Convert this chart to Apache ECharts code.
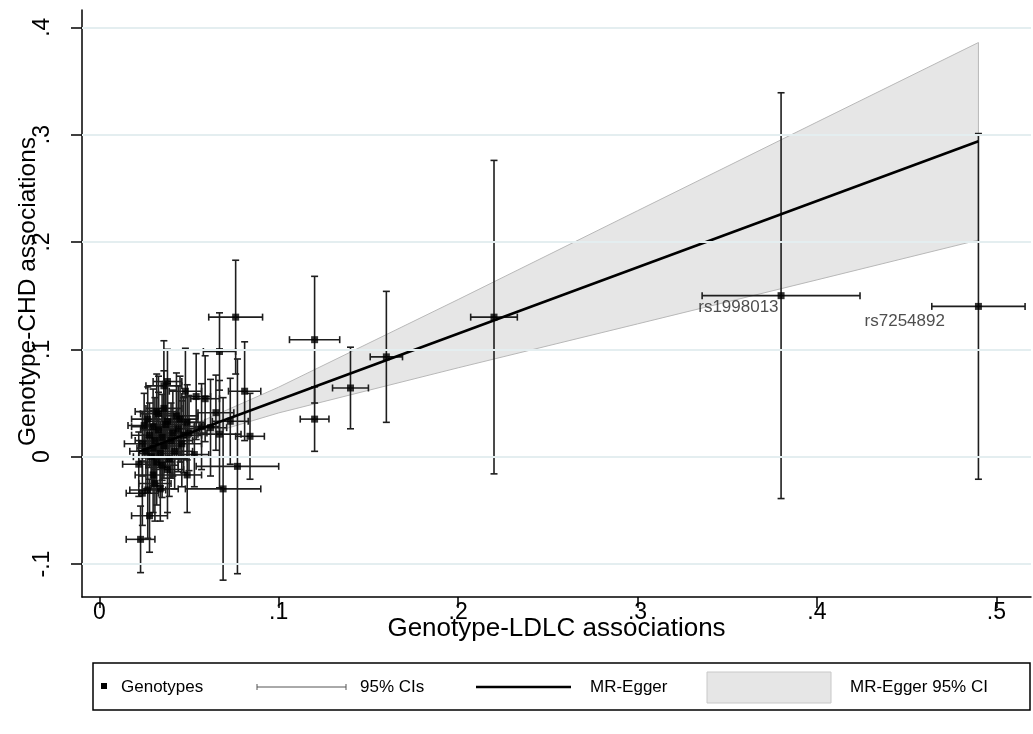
<!DOCTYPE html>
<html>
<head>
<meta charset="utf-8">
<script src="https://cdn.jsdelivr.net/npm/echarts@6/dist/echarts.min.js"></script>
<style>
    html, body { margin: 0; padding: 0; background: #fff; }
    #chart { width: 1033px; height: 734px; }
</style>
</head>
<body>
<div id="chart"></div>
<script>
// genotype associations: x = LDLC, y = CHD, plus 95% CI half widths
const ldlc = [0.490, 0.380, 0.220, 0.160, 0.140, 0.120, 0.120, 0.076, 0.067, 0.081,
    0.084, 0.077, 0.069, 0.059, 0.065, 0.073, 0.062, 0.067, 0.053, 0.049,
    0.036, 0.038, 0.048, 0.054, 0.038, 0.045, 0.049, 0.032, 0.025, 0.044,
    0.038, 0.039, 0.022, 0.024, 0.027, 0.028, 0.023, 0.030, 0.024, 0.028,
    0.030, 0.031, 0.033, 0.034, 0.035, 0.036, 0.037, 0.029, 0.026, 0.032,
    0.040, 0.041, 0.042, 0.027, 0.033, 0.035, 0.030, 0.046, 0.047, 0.036,
    0.031, 0.034, 0.043, 0.050, 0.057];
const chd = [0.140, 0.150, 0.130, 0.093, 0.064, 0.109, 0.035, 0.130, 0.098, 0.061,
    0.019, -0.009, -0.030, 0.054, 0.041, 0.033, 0.027, 0.021, 0.002, -0.017,
    0.066, 0.070, 0.061, 0.056, 0.033, 0.035, 0.032, 0.042, 0.029, 0.026,
    -0.012, -0.002, -0.007, -0.034, -0.031, -0.055, -0.077, -0.017, 0.012, 0.020,
    0.008, 0.015, 0.025, 0.003, 0.018, 0.010, 0.030, 0.000, 0.005, -0.005,
    0.015, 0.022, 0.005, 0.035, 0.040, -0.008, 0.028, 0.012, 0.020, 0.045,
    -0.025, -0.030, 0.038, 0.022, 0.028];
const ldlcHalf = [0.026, 0.044, 0.013, 0.009, 0.010, 0.014, 0.008, 0.015, 0.009, 0.009,
    0.008, 0.023, 0.021, 0.008, 0.010, 0.010, 0.009, 0.012, 0.008, 0.008,
    0.010, 0.008, 0.009, 0.008, 0.012, 0.010, 0.010, 0.012, 0.009, 0.012,
    0.009, 0.010, 0.009, 0.009, 0.010, 0.010, 0.008, 0.010, 0.010, 0.010,
    0.009, 0.011, 0.010, 0.012, 0.010, 0.009, 0.011, 0.010, 0.009, 0.010,
    0.012, 0.010, 0.010, 0.009, 0.010, 0.009, 0.012, 0.011, 0.010, 0.010,
    0.009, 0.010, 0.012, 0.010, 0.010];
const chdHalf = [0.161, 0.189, 0.146, 0.061, 0.038, 0.059, 0.030, 0.053, 0.036, 0.046,
    0.040, 0.100, 0.085, 0.040, 0.035, 0.040, 0.045, 0.050, 0.030, 0.035,
    0.042, 0.030, 0.040, 0.040, 0.035, 0.040, 0.035, 0.035, 0.030, 0.040,
    0.040, 0.035, 0.030, 0.030, 0.045, 0.034, 0.031, 0.035, 0.030, 0.030,
    0.035, 0.040, 0.035, 0.030, 0.040, 0.030, 0.040, 0.030, 0.035, 0.040,
    0.035, 0.040, 0.035, 0.030, 0.035, 0.030, 0.035, 0.040, 0.035, 0.035,
    0.035, 0.030, 0.040, 0.035, 0.040];
const snpNames = ['rs7254892', 'rs1998013'];

// MR-Egger fit and its 95% band
const eggerX = [0.022, 0.490];
const eggerY = [0.0046, 0.2938];
const bandX = [0.022, 0.050, 0.100, 0.200, 0.300, 0.400, 0.490];
const bandLow = [-0.0038, 0.0159, 0.0408, 0.0828, 0.1237, 0.1647, 0.2018];
const bandHigh = [0.0130, 0.0279, 0.0648, 0.1464, 0.2291, 0.3117, 0.3858];

const xTicks = [0, 0.1, 0.2, 0.3, 0.4, 0.5];
const xTickLabels = ['0', '.1', '.2', '.3', '.4', '.5'];
const yTicks = [-0.1, 0, 0.1, 0.2, 0.3, 0.4];
const yTickLabels = ['-.1', '0', '.1', '.2', '.3', '.4'];

const font = 'Liberation Sans, Arial, sans-serif';

let myChart = echarts.init(document.getElementById('chart'));

let ciData = ldlc.map((x, i) => [x, chd[i], x - ldlcHalf[i], x + ldlcHalf[i], chd[i] - chdHalf[i], chd[i] + chdHalf[i]]);
let pointData = ldlc.map((x, i) => {
    let item = { value: [x, chd[i]] };
    if (i === 0) {
        item.label = { show: true, formatter: snpNames[0], position: [-30, 10], align: 'right', verticalAlign: 'top' };
    } else if (i === 1) {
        item.label = { show: true, formatter: snpNames[1], position: [1, 7], align: 'right', verticalAlign: 'top' };
    }
    return item;
});

function pickLabel(ticks, labels, v) {
    let i = ticks.findIndex(t => Math.abs(t - v) < 1e-9);
    return i < 0 ? '' : labels[i];
}

let option = {
    animation: false,
    grid: { left: 82, top: 10, right: 2, bottom: 137, outerBoundsMode: 'none', containLabel: false },
    xAxis: {
        type: 'value',
        min: -0.00964,
        max: 0.5193,
        name: 'Genotype-LDLC associations',
        nameLocation: 'middle',
        nameGap: 19,
        nameMoveOverlap: false,
        nameTextStyle: { fontFamily: font, fontSize: 26, color: '#000' },
        axisLine: { onZero: false, lineStyle: { color: '#000', width: 1.5 } },
        axisTick: { customValues: xTicks, length: 11, lineStyle: { color: '#000', width: 1.5 } },
        axisLabel: {
            customValues: xTicks,
            margin: 4,
            fontFamily: font, fontSize: 23, color: '#000',
            formatter: v => pickLabel(xTicks, xTickLabels, v)
        },
        splitLine: { show: false }
    },
    yAxis: {
        type: 'value',
        min: -0.1307,
        max: 0.4161,
        name: 'Genotype-CHD associations',
        nameLocation: 'middle',
        nameGap: 41,
        nameRotate: 90,
        nameMoveOverlap: false,
        nameTextStyle: { fontFamily: font, fontSize: 24.5, color: '#000', padding: [0, 0, 0, 24] },
        axisLine: { show: true, onZero: false, lineStyle: { color: '#000', width: 1.5 } },
        axisTick: { show: true, customValues: yTicks, length: 11, lineStyle: { color: '#000', width: 1.5 } },
        axisLabel: {
            customValues: yTicks,
            rotate: 90,
            margin: 28,
            fontFamily: font, fontSize: 23, color: '#000',
            formatter: v => pickLabel(yTicks, yTickLabels, v)
        },
        splitLine: { show: false }
    },
    series: [
        {
            // gridlines
            type: 'line',
            data: [],
            z: 0,
            markLine: {
                silent: true,
                symbol: 'none',
                label: { show: false },
                lineStyle: { color: '#e4eef0', width: 2, type: 'solid' },
                data: yTicks.map(v => ({ yAxis: v }))
            }
        },
        {
            // MR-Egger 95% CI band
            type: 'custom',
            z: 1,
            data: [0],
            renderItem: function (params, api) {
                let pts = [];
                bandX.forEach((x, i) => pts.push(api.coord([x, bandHigh[i]])));
                for (let i = bandX.length - 1; i >= 0; i--) pts.push(api.coord([bandX[i], bandLow[i]]));
                return {
                    type: 'polygon',
                    shape: { points: pts },
                    style: { fill: '#e6e6e6', stroke: '#b8b8b8', lineWidth: 1 }
                };
            }
        },
        {
            // 95% CIs of each genotype
            type: 'custom',
            z: 2,
            data: ciData,
            encode: { x: 0, y: 1 },
            renderItem: function (params, api) {
                let c = api.coord([api.value(0), api.value(1)]);
                let l = api.coord([api.value(2), api.value(1)]);
                let r = api.coord([api.value(3), api.value(1)]);
                let b = api.coord([api.value(0), api.value(4)]);
                let t = api.coord([api.value(0), api.value(5)]);
                let cap = 3.5;
                let st = { stroke: '#1e1e1e', lineWidth: 1.6 };
                let seg = (x1, y1, x2, y2) => ({ type: 'line', shape: { x1, y1, x2, y2 }, style: st });
                return {
                    type: 'group',
                    children: [
                        seg(l[0], c[1], r[0], c[1]),
                        seg(l[0], c[1] - cap, l[0], c[1] + cap),
                        seg(r[0], c[1] - cap, r[0], c[1] + cap),
                        seg(c[0], t[1], c[0], b[1]),
                        seg(c[0] - cap, t[1], c[0] + cap, t[1]),
                        seg(c[0] - cap, b[1], c[0] + cap, b[1])
                    ]
                };
            }
        },
        {
            name: 'MR-Egger',
            type: 'line',
            z: 3,
            symbol: 'none',
            lineStyle: { color: '#000', width: 2.6 },
            data: eggerX.map((x, i) => [x, eggerY[i]])
        },
        {
            name: 'Genotypes',
            type: 'scatter',
            z: 4,
            symbol: 'rect',
            symbolSize: 7,
            itemStyle: { color: '#000' },
            label: { fontFamily: font, fontSize: 17, color: '#222' },
            data: pointData
        }
    ],
    graphic: [
        { type: 'rect', shape: { x: 93, y: 663, width: 937, height: 47 }, style: { fill: '#fff', stroke: '#000', lineWidth: 1.5 } },
        { type: 'rect', shape: { x: 101, y: 683, width: 6, height: 6 }, style: { fill: '#000' } },
        { type: 'text', x: 121, y: 687, style: { text: 'Genotypes', fontFamily: font, fontSize: 17, fill: '#000', verticalAlign: 'middle' } },
        { type: 'line', shape: { x1: 257, y1: 687, x2: 346, y2: 687 }, style: { stroke: '#555', lineWidth: 1 } },
        { type: 'line', shape: { x1: 257, y1: 684, x2: 257, y2: 690 }, style: { stroke: '#555', lineWidth: 1 } },
        { type: 'line', shape: { x1: 346, y1: 684, x2: 346, y2: 690 }, style: { stroke: '#555', lineWidth: 1 } },
        { type: 'text', x: 360, y: 687, style: { text: '95% CIs', fontFamily: font, fontSize: 17, fill: '#000', verticalAlign: 'middle' } },
        { type: 'line', shape: { x1: 476, y1: 687, x2: 571, y2: 687 }, style: { stroke: '#000', lineWidth: 2.6 } },
        { type: 'text', x: 590, y: 687, style: { text: 'MR-Egger', fontFamily: font, fontSize: 17, fill: '#000', verticalAlign: 'middle' } },
        { type: 'rect', shape: { x: 707, y: 672, width: 124, height: 31 }, style: { fill: '#e6e6e6', stroke: '#c8c8c8', lineWidth: 1 } },
        { type: 'text', x: 850, y: 687, style: { text: 'MR-Egger 95% CI', fontFamily: font, fontSize: 17, fill: '#000', verticalAlign: 'middle' } }
    ]
};

myChart.setOption(option);
</script>
</body>
</html>
